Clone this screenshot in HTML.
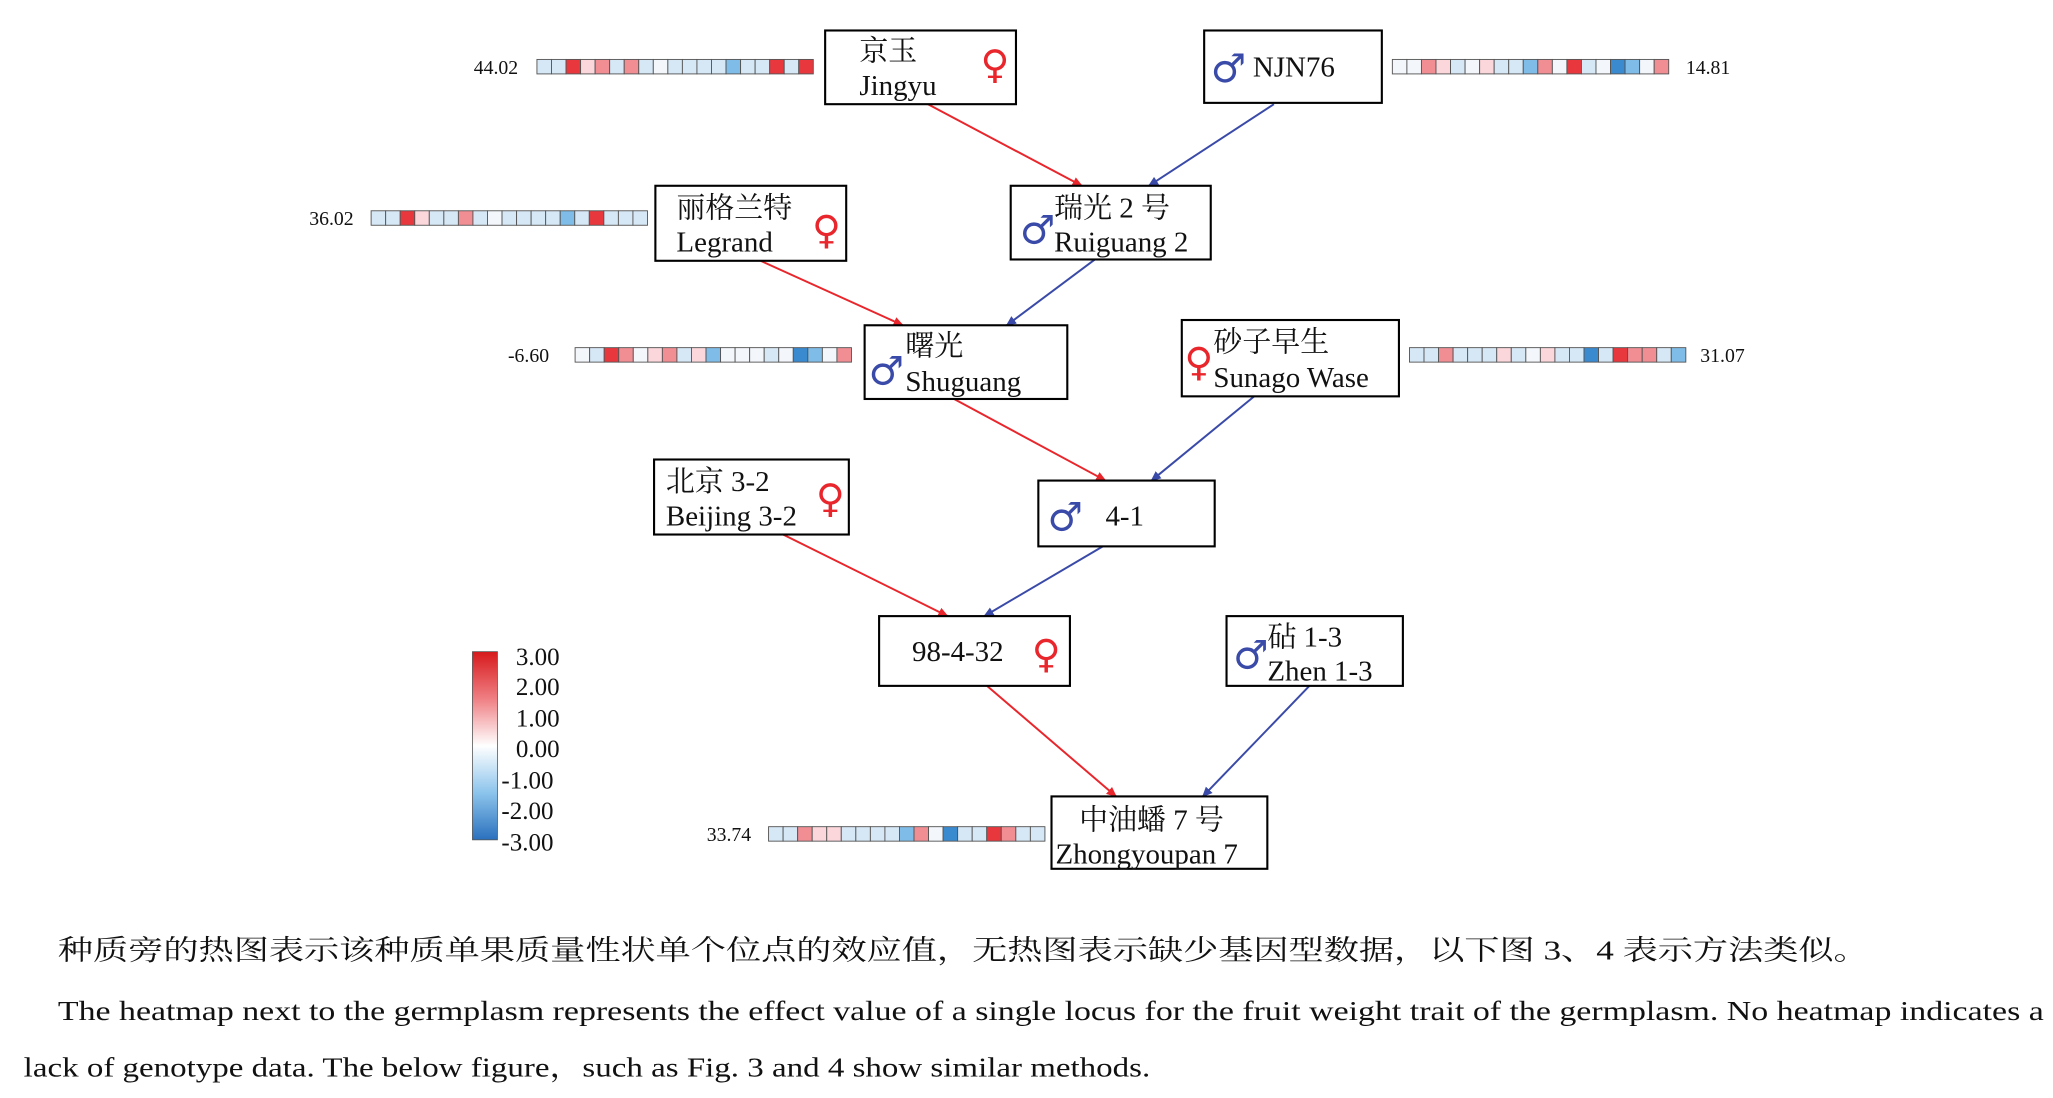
<!DOCTYPE html>
<html><head><meta charset="utf-8"><style>
html,body{margin:0;padding:0;background:#fff;}
svg{display:block;}
text{font-family:"Liberation Serif","Noto Serif CJK SC","Noto Sans CJK SC",serif;fill:#111;}
text.g{font-family:"DejaVu Sans",sans-serif;font-size:30px;}
text.f{fill:#e8262c;}
text.m{fill:#3a4aa8;}
</style></head><body>
<svg id="s" width="2053" height="1098" viewBox="0 0 1560 834" xmlns="http://www.w3.org/2000/svg">
<defs>
<marker id="ar" markerWidth="8" markerHeight="8" refX="7" refY="4" orient="auto" markerUnits="userSpaceOnUse"><path d="M0,0.5 L8,4 L0,7.5 Z" fill="#e8262c"/></marker>
<marker id="ab" markerWidth="8" markerHeight="8" refX="7" refY="4" orient="auto" markerUnits="userSpaceOnUse"><path d="M0,0.5 L8,4 L0,7.5 Z" fill="#3a4aa8"/></marker>
<linearGradient id="cb" x1="0" y1="0" x2="0" y2="1">
<stop offset="0" stop-color="#d7191c"/><stop offset="0.25" stop-color="#ef7f83"/><stop offset="0.5" stop-color="#ffffff"/><stop offset="0.75" stop-color="#8cc4ec"/><stop offset="1" stop-color="#2a70bd"/>
</linearGradient>
</defs>

<g stroke-width="1.5" fill="none">
<line x1="705" y1="79" x2="822" y2="141" stroke="#e8262c" marker-end="url(#ar)"/>
<line x1="968" y1="79" x2="873" y2="141" stroke="#3a4aa8" marker-end="url(#ab)"/>
<line x1="578" y1="198" x2="686" y2="247" stroke="#e8262c" marker-end="url(#ar)"/>
<line x1="832" y1="197" x2="765" y2="247" stroke="#3a4aa8" marker-end="url(#ab)"/>
<line x1="725" y1="303" x2="840" y2="365" stroke="#e8262c" marker-end="url(#ar)"/>
<line x1="953" y1="301" x2="875" y2="365" stroke="#3a4aa8" marker-end="url(#ab)"/>
<line x1="595" y1="406" x2="720" y2="468" stroke="#e8262c" marker-end="url(#ar)"/>
<line x1="838" y1="415" x2="748" y2="468" stroke="#3a4aa8" marker-end="url(#ab)"/>
<line x1="750" y1="521" x2="848" y2="605" stroke="#e8262c" marker-end="url(#ar)"/>
<line x1="995" y1="521" x2="914" y2="605" stroke="#3a4aa8" marker-end="url(#ab)"/>
</g>

<g fill="#fff" stroke="#000" stroke-width="1.6">
<rect x="627" y="23" width="145" height="56"/>
<rect x="915" y="23" width="135" height="55"/>
<rect x="498" y="141" width="145" height="57"/>
<rect x="768" y="141" width="152" height="56"/>
<rect x="657" y="247" width="154" height="56"/>
<rect x="898" y="243" width="165" height="58"/>
<rect x="497" y="349" width="148" height="57"/>
<rect x="789" y="365" width="134" height="50"/>
<rect x="668" y="468" width="145" height="53"/>
<rect x="932" y="468" width="134" height="53"/>
<rect x="799" y="605" width="164" height="55"/>
</g>
<g font-size="22">
<text x="653" y="46">京玉</text><text x="653" y="72">Jingyu</text>
<text x="952" y="58">NJN76</text>
<text x="514" y="165">丽格兰特</text><text x="514" y="191">Legrand</text>
<text x="801" y="165">瑞光 2 号</text><text x="801" y="191">Ruiguang 2</text>
<text x="688" y="270">曙光</text><text x="688" y="297">Shuguang</text>
<text x="922" y="267">砂子早生</text><text x="922" y="294">Sunago Wase</text>
<text x="506" y="373">北京 3-2</text><text x="506" y="399">Beijing 3-2</text>
<text x="840" y="399">4-1</text>
<text x="693" y="502">98-4-32</text>
<text x="963" y="491">砧 1-3</text><text x="963" y="517">Zhen 1-3</text>
<text x="820" y="630">中油蟠 7 号</text><text x="802" y="656">Zhongyoupan 7</text>
</g>
<text class="g f" x="745" y="59">♀</text>
<text class="g m" x="920" y="62">♂</text>
<text class="g f" x="617" y="185">♀</text>
<text class="g m" x="775" y="185">♂</text>
<text class="g m" x="660" y="292">♂</text>
<text class="g f" x="900" y="285">♀</text>
<text class="g f" x="620" y="389">♀</text>
<text class="g m" x="796" y="403">♂</text>
<text class="g f" x="784" y="507">♀</text>
<text class="g m" x="937" y="508">♂</text>

<g font-size="15">
<text x="360" y="56">44.02</text>
<text x="1281" y="56">14.81</text>
<text x="235" y="171">36.02</text>
<text x="386" y="275">-6.60</text>
<text x="1292" y="275">31.07</text>
<text x="537" y="639">33.74</text>
</g>
<g id="hm"></g>

<rect x="359" y="495" width="19" height="143" fill="url(#cb)" stroke="#555" stroke-width="0.6"/>
<g font-size="19">
<text x="392" y="505">3.00</text>
<text x="392" y="528">2.00</text>
<text x="392" y="552">1.00</text>
<text x="392" y="575">0.00</text>
<text x="381" y="599">-1.00</text>
<text x="381" y="622">-2.00</text>
<text x="381" y="646">-3.00</text>
</g>

<g font-size="21">
<text x="44" y="729" textLength="1376" lengthAdjust="spacingAndGlyphs">种质旁的热图表示该种质单果质量性状单个位点的效应值，无热图表示缺少基因型数据，以下图 3、4 表示方法类似。</text>
<text x="44" y="775" textLength="1509" lengthAdjust="spacingAndGlyphs">The heatmap next to the germplasm represents the effect value of a single locus for the fruit weight trait of the germplasm. No heatmap indicates a</text>
<text x="18" y="818" textLength="856" lengthAdjust="spacingAndGlyphs">lack of genotype data. The below figure，such as Fig. 3 and 4 show similar methods.</text>
</g>
</svg>
<script>
var C={W:"#f3f7fb",L:"#d6e8f6",M:"#7fbde8",B:"#3a8ad0",X:"#fbd6da",S:"#f08e94",R:"#e8383e"};
var bars=[[408,45,"LLRXSLSLWLLLLMLLRLR"],[1058,45,"WWSXLWXLLMSWRLWBMWS"],[282,160,"LLRXLLSLWLLLLMLRLLL"],[437,264,"WLRSWXSLXMWWWLWBMWS"],[1071,264,"LLSLLLXLWXLLBLRSSLM"],[584,628,"LLSXXLLLLMSWBLLRSLL"]];
var g=document.getElementById("hm"),ns="http://www.w3.org/2000/svg",w=210/19;
bars.forEach(function(b){for(var i=0;i<19;i++){var r=document.createElementNS(ns,"rect");r.setAttribute("x",b[0]+i*w);r.setAttribute("y",b[1]);r.setAttribute("width",w);r.setAttribute("height",11);r.setAttribute("fill",C[b[2][i]]);r.setAttribute("stroke","#555");r.setAttribute("stroke-width","0.7");g.appendChild(r);}});
</script>
</body></html>
